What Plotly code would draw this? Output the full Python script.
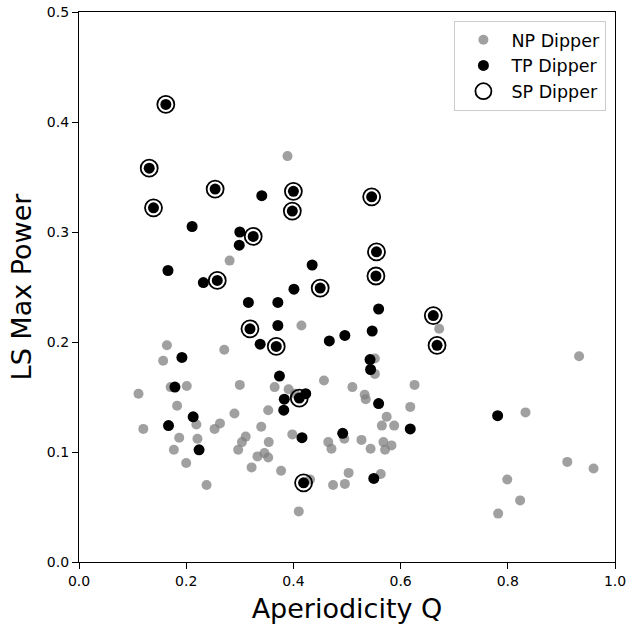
import plotly.graph_objects as go

# Non-periodic dippers (grey)
np_q = [0.389, 0.281, 0.672, 0.415, 0.933, 0.833, 0.911, 0.960, 0.799, 0.823,
        0.782, 0.164, 0.157, 0.271, 0.111, 0.171, 0.201, 0.300, 0.365, 0.391,
        0.353, 0.290, 0.183, 0.120, 0.219, 0.263, 0.253, 0.340, 0.398, 0.187,
        0.221, 0.311, 0.304, 0.354, 0.177, 0.297, 0.333, 0.346, 0.353, 0.200,
        0.322, 0.377, 0.238, 0.410, 0.552, 0.552, 0.457, 0.510, 0.626, 0.533,
        0.535, 0.618, 0.403, 0.574, 0.565, 0.588, 0.495, 0.465, 0.471, 0.527,
        0.544, 0.568, 0.583, 0.571, 0.431, 0.503, 0.563, 0.474, 0.496]
np_power = [0.369, 0.274, 0.212, 0.215, 0.187, 0.136, 0.091, 0.085, 0.075, 0.056,
            0.044, 0.197, 0.183, 0.193, 0.153, 0.159, 0.160, 0.161, 0.159, 0.157,
            0.138, 0.135, 0.142, 0.121, 0.125, 0.126, 0.121, 0.123, 0.116, 0.113,
            0.112, 0.114, 0.109, 0.109, 0.102, 0.102, 0.096, 0.099, 0.095, 0.090,
            0.086, 0.083, 0.070, 0.046, 0.185, 0.171, 0.165, 0.159, 0.161, 0.152,
            0.148, 0.141, 0.153, 0.132, 0.124, 0.124, 0.112, 0.109, 0.103, 0.111,
            0.103, 0.109, 0.106, 0.102, 0.075, 0.081, 0.080, 0.070, 0.071]

# Transiently periodic dippers (black)
tp_q = [0.162, 0.131, 0.254, 0.400, 0.341, 0.139, 0.398, 0.211, 0.300, 0.325,
        0.299, 0.166, 0.258, 0.232, 0.546, 0.555, 0.554, 0.435, 0.401, 0.450,
        0.559, 0.661, 0.668, 0.316, 0.371, 0.319, 0.371, 0.338, 0.368, 0.192,
        0.374, 0.179, 0.383, 0.411, 0.382, 0.213, 0.167, 0.224, 0.467, 0.496,
        0.547, 0.543, 0.544, 0.559, 0.423, 0.618, 0.416, 0.492, 0.419, 0.550,
        0.781]
tp_power = [0.416, 0.358, 0.339, 0.337, 0.333, 0.322, 0.319, 0.305, 0.300, 0.296,
            0.288, 0.265, 0.256, 0.254, 0.332, 0.282, 0.260, 0.270, 0.248, 0.249,
            0.230, 0.224, 0.197, 0.236, 0.236, 0.212, 0.215, 0.198, 0.196, 0.186,
            0.169, 0.159, 0.148, 0.149, 0.138, 0.132, 0.124, 0.102, 0.201, 0.206,
            0.210, 0.184, 0.175, 0.144, 0.153, 0.121, 0.113, 0.117, 0.072, 0.076,
            0.133]

# Strictly periodic dippers (open rings)
sp_q = [0.162, 0.131, 0.254, 0.400, 0.139, 0.398, 0.325, 0.258, 0.546, 0.555,
        0.554, 0.450, 0.661, 0.668, 0.319, 0.368, 0.411, 0.419]
sp_power = [0.416, 0.358, 0.339, 0.337, 0.322, 0.319, 0.296, 0.256, 0.332, 0.282,
            0.260, 0.249, 0.224, 0.197, 0.212, 0.196, 0.149, 0.072]

fig = go.Figure()
fig.add_trace(go.Scatter(
    x=np_q, y=np_power, mode="markers", name="NP Dipper",
    marker=dict(size=10, color="rgba(128,128,128,0.75)", line=dict(width=0)),
))
fig.add_trace(go.Scatter(
    x=tp_q, y=tp_power, mode="markers", name="TP Dipper",
    marker=dict(size=11, color="black", line=dict(width=0)),
))
fig.add_trace(go.Scatter(
    x=sp_q, y=sp_power, mode="markers", name="SP Dipper",
    marker=dict(size=17, color="rgba(0,0,0,0)", line=dict(width=1.8, color="black")),
))

axis_common = dict(
    showgrid=False, zeroline=False, automargin=False,
    showline=True, linecolor="black", linewidth=1.3, mirror=True,
    ticks="outside", ticklen=6, tickwidth=1.2, tickcolor="black",
    tickfont=dict(size=14, color="black"),
)

fig.update_layout(
    width=628, height=627,
    margin=dict(l=79, r=13, t=12, b=65),
    paper_bgcolor="white", plot_bgcolor="white",
    font=dict(family="DejaVu Sans", color="black"),
    xaxis=dict(range=[0, 1], dtick=0.2, tickformat=".1f",
               title=dict(text="Aperiodicity Q", font=dict(size=27), standoff=11),
               **axis_common),
    yaxis=dict(range=[0, 0.5], dtick=0.1, tickformat=".1f",
               title=dict(text="LS Max Power", font=dict(size=27), standoff=7),
               **axis_common),
    legend=dict(
        x=0.984, y=0.984, xanchor="right", yanchor="top",
        font=dict(size=17.5), bgcolor="rgba(255,255,255,0.8)",
        bordercolor="#cccccc", borderwidth=1, itemwidth=46,
    ),
    showlegend=True,
)

fig.write_html("out.html", config={"displayModeBar": False})
